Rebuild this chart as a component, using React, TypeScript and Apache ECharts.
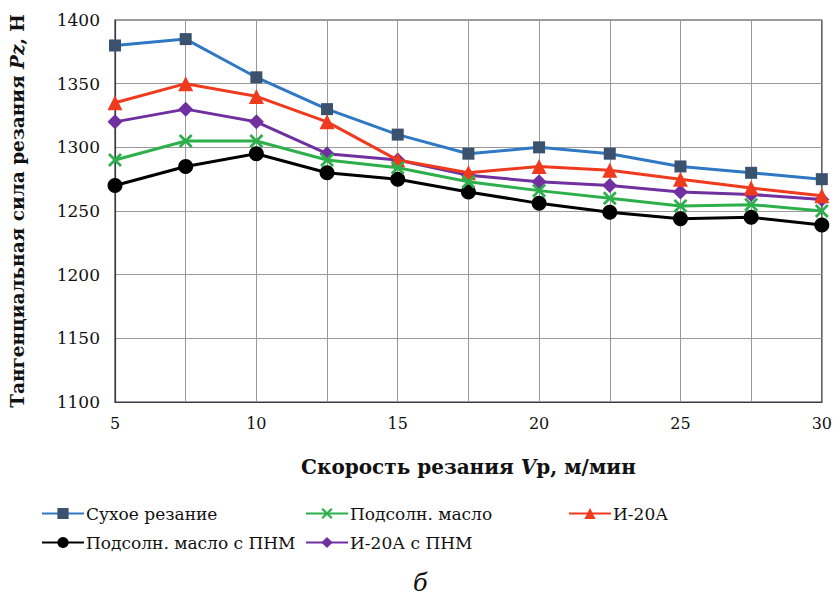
import React, { useEffect, useRef } from "react";
import * as echarts from "echarts";

const speeds = [5, 7.5, 10, 12.5, 15, 17.5, 20, 22.5, 25, 27.5, 30];
const dry = [1380, 1385, 1355, 1330, 1310, 1295, 1300, 1295, 1285, 1280, 1275];
const sunflower = [1290, 1305, 1305, 1290, 1284, 1273, 1266, 1260, 1254, 1255, 1250];
const i20a = [1335, 1350, 1340, 1320, 1290, 1280, 1285, 1282, 1275, 1268, 1262];
const sunflowerPnm = [1270, 1285, 1295, 1280, 1275, 1265, 1256, 1249, 1244, 1245, 1239];
const i20aPnm = [1320, 1330, 1320, 1295, 1290, 1278, 1273, 1270, 1265, 1263, 1259];
const seriesNames = [
  "Сухое резание",
  "Подсолн. масло",
  "И-20А",
  "Подсолн. масло с ПНМ",
  "И-20А с ПНМ",
];
const yTicks = { min: 1100, max: 1400, step: 50 };
const xTicks = { min: 5, max: 30, step: 2.5, labelStep: 5 };

const FONT = "DejaVu Serif";
const CROSS =
  "path://M0,1.4 L1.4,0 L5,3.6 L8.6,0 L10,1.4 L6.4,5 L10,8.6 L8.6,10 L5,6.4 L1.4,10 L0,8.6 L3.6,5 Z";

export default function App() {
  const ref = useRef<HTMLDivElement>(null);
  useEffect(() => {
    if (!ref.current) return;
    const chart = echarts.init(ref.current, null, { renderer: "svg" });
    const pts = (arr: number[]) => arr.map((v, i) => [speeds[i], v]);
    const defs = [
      { data: dry, line: "#2E78C4", item: "#3B526E", symbol: "rect", size: 12 },
      { data: sunflower, line: "#2DB04B", item: "#2DB04B", symbol: CROSS, size: 14 },
      { data: i20a, line: "#F03A1E", item: "#F03A1E", symbol: "triangle", size: 15 },
      { data: sunflowerPnm, line: "#000000", item: "#000000", symbol: "circle", size: 15 },
      { data: i20aPnm, line: "#7030A0", item: "#7030A0", symbol: "diamond", size: 15 },
    ];
    const series = defs.map((d, i) => ({
      name: seriesNames[i],
      type: "line",
      data: pts(d.data),
      symbol: d.symbol,
      symbolSize: d.size,
      showSymbol: true,
      lineStyle: { color: d.line, width: 3 },
      itemStyle: { color: d.item },
      z: 10 - i,
    }));
    const legendPos = [
      { left: 41, top: 505 },
      { left: 305, top: 505 },
      { left: 568, top: 505 },
      { left: 41, top: 534 },
      { left: 305, top: 534 },
    ];
    const legends = seriesNames.map((n, i) => ({
      data: [n],
      left: legendPos[i].left,
      top: legendPos[i].top,
      itemWidth: 42,
      itemHeight: 14,
      itemGap: 0,
      padding: 0,
      textStyle: { fontFamily: FONT, fontSize: 17, color: "#111", padding: [0, 0, 0, -3] },
      selectedMode: false,
    }));
    const titleStyle = (size: number) => ({
      fontFamily: FONT,
      fontSize: size,
      fontWeight: "bold",
      color: "#111",
      rich: { i: { fontFamily: FONT, fontSize: size, fontWeight: "bold", fontStyle: "italic", color: "#111" } },
    });
    chart.setOption({
      animation: false,
      backgroundColor: "#ffffff",
      textStyle: { fontFamily: FONT },
      grid: { left: 106, right: 10, top: 20, bottom: 196, containLabel: false, show: true, borderColor: "#3a3a4a", borderWidth: 1.2 },
      legend: legends,
      xAxis: {
        type: "value",
        min: xTicks.min,
        max: xTicks.max,
        interval: xTicks.step,
        axisLine: { show: true, lineStyle: { color: "#3a3a4a", width: 1.2 } },
        axisTick: { show: false },
        splitLine: { show: true, lineStyle: { color: "#9a9a9a", width: 1 } },
        axisLabel: {
          fontFamily: FONT,
          fontSize: 16,
          color: "#111",
          margin: 13,
          formatter: (v: number) => (v % xTicks.labelStep === 0 ? String(v) : ""),
        },
        name: "Скорость резания {i|V}р, м/мин",
        nameLocation: "middle",
        nameGap: 55,
        nameTextStyle: titleStyle(20),
      },
      yAxis: {
        type: "value",
        min: yTicks.min,
        max: yTicks.max,
        interval: yTicks.step,
        axisLine: { show: true, lineStyle: { color: "#3a3a4a", width: 1.2 } },
        axisTick: { show: false },
        splitLine: { show: true, lineStyle: { color: "#9a9a9a", width: 1 } },
        axisLabel: { fontFamily: FONT, fontSize: 17, color: "#111", margin: 15, formatter: (v: number) => String(v) },
        name: "Тангенциальная сила резания {i|Pz}, Н",
        nameLocation: "middle",
        nameGap: 88,
        nameTextStyle: titleStyle(18.5),
      },
      graphic: [
        {
          type: "text",
          left: 413,
          top: 571,
          style: { text: "б", fontFamily: FONT, fontSize: 24, fontStyle: "italic", fill: "#111" },
        },
      ],
      series,
    });
    return () => chart.dispose();
  }, []);
  return <div ref={ref} style={{ position: "absolute", left: 0, top: 0, width: 835, height: 598 }} />;
}
